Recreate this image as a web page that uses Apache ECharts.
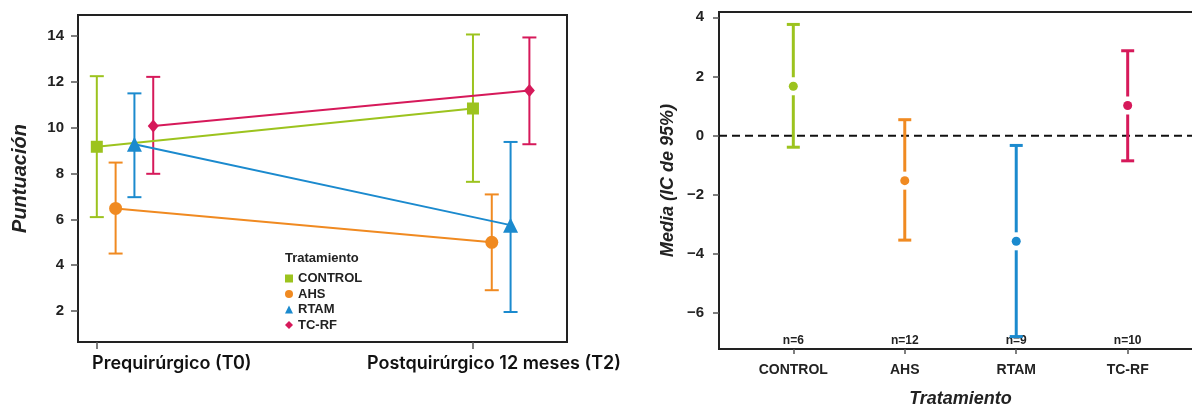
<!DOCTYPE html>
<html><head><meta charset="utf-8">
<script src="https://cdn.jsdelivr.net/npm/echarts@6/dist/echarts.min.js"></script>
<style>html,body{margin:0;padding:0;background:#fff}#c{width:1192px;height:408px}</style>
</head><body><div id="c"></div>
<script>
// ---------- data ----------
const timeLabels = ['Prequirúrgico (T0)', 'Postquirúrgico 12 meses (T2)'];
const groups = ['CONTROL', 'AHS', 'RTAM', 'TC-RF'];
const t0Mean = [9.17, 6.48, 9.28, 10.08];
const t0Low  = [6.10, 4.51, 6.97, 7.99];
const t0High = [12.25, 8.48, 11.50, 12.22];
const t2Mean = [10.84, 5.00, 5.75, 11.63];
const t2Low  = [7.64, 2.91, 1.96, 9.28];
const t2High = [14.07, 7.09, 9.38, 13.94];
const leftYTicks = [2, 4, 6, 8, 10, 12, 14];

const diffMean = [1.67, -1.52, -3.57, 1.02];
const diffLow  = [-0.39, -3.53, -6.79, -0.85];
const diffHigh = [3.76, 0.54, -0.33, 2.87];
const nCounts  = [6, 12, 9, 10];
const rightYTicks = [-6, -4, -2, 0, 2, 4];
const refValue = 0;

// ---------- styles ----------
const colors = ['#9cc31e', '#f08a21', '#1b8ace', '#d6195a'];
const symbols = ['rect', 'circle', 'triangle', 'diamond'];
const symbolSizes = [12, 13, 15, [11, 13]];
const dodge = [0, 0.05, 0.10, 0.15];
const dark = '#222';
const tickFont = {fontFamily: 'Liberation Sans', fontWeight: 'bold', fontSize: 15, color: dark};
const titleFont = {fontFamily: 'Liberation Sans', fontWeight: 'bold', fontStyle: 'italic', color: dark};

const chart = echarts.init(document.getElementById('c'));

function errRender(capW, lw, gap) {
  return function (params, api) {
    const x = api.value(0), lo = api.value(1), hi = api.value(2), m = api.value(3);
    const pHi = api.coord([x, hi]), pLo = api.coord([x, lo]);
    const c = api.visual('color');
    const style = {stroke: c, lineWidth: lw};
    const ch = [];
    if (gap) {
      const pm = api.coord([x, m]);
      ch.push({type: 'line', shape: {x1: pHi[0], y1: pHi[1], x2: pm[0], y2: pm[1] - gap}, style});
      ch.push({type: 'line', shape: {x1: pm[0], y1: pm[1] + gap, x2: pLo[0], y2: pLo[1]}, style});
    } else {
      ch.push({type: 'line', shape: {x1: pHi[0], y1: pHi[1], x2: pLo[0], y2: pLo[1]}, style});
    }
    ch.push({type: 'line', shape: {x1: pHi[0] - capW, y1: pHi[1], x2: pHi[0] + capW, y2: pHi[1]}, style});
    ch.push({type: 'line', shape: {x1: pLo[0] - capW, y1: pLo[1], x2: pLo[0] + capW, y2: pLo[1]}, style});
    return {type: 'group', children: ch};
  };
}

const series = [];
groups.forEach((g, i) => {
  series.push({
    name: 'eb-' + g, type: 'custom', xAxisIndex: 0, yAxisIndex: 0, z: 2,
    itemStyle: {color: colors[i]},
    renderItem: errRender(7, 2, 0),
    data: [[1 + dodge[i], t0Low[i], t0High[i], t0Mean[i]], [2 + dodge[i], t2Low[i], t2High[i], t2Mean[i]]]
  });
  series.push({
    name: g, type: 'line', xAxisIndex: 0, yAxisIndex: 0, z: 3,
    symbol: symbols[i], symbolSize: symbolSizes[i], showSymbol: true,
    color: colors[i], lineStyle: {width: 2, color: colors[i]}, itemStyle: {color: colors[i], opacity: 1},
    data: [[1 + dodge[i], t0Mean[i]], [2 + dodge[i], t2Mean[i]]]
  });
});

// right chart
series.push({
  name: 'ref0', type: 'line', xAxisIndex: 1, yAxisIndex: 1, z: 1, showSymbol: false, symbol: 'none',
  lineStyle: {color: '#111', type: [8, 5], width: 2},
  data: [[0.3333, refValue], [4.6667, refValue]]
});
series.push({
  name: 'diff-eb', type: 'custom', xAxisIndex: 1, yAxisIndex: 1, z: 2,
  renderItem: errRender(6.5, 3, 9),
  data: groups.map((g, i) => ({value: [i + 1, diffLow[i], diffHigh[i], diffMean[i]], itemStyle: {color: colors[i]}}))
});
series.push({
  name: 'diff-mean', type: 'scatter', xAxisIndex: 1, yAxisIndex: 1, z: 3,
  symbol: 'circle', symbolSize: 9,
  data: groups.map((g, i) => ({value: [i + 1, diffMean[i]], itemStyle: {color: colors[i], opacity: 1}}))
});

const labelRich = {fontFamily: 'Inter', fontWeight: 600, fontSize: 18, color: '#111'};

const option = {
  animation: false,
  backgroundColor: '#fff',
  grid: [
    {left: 78, top: 15, width: 489, height: 327, show: true, borderColor: dark, borderWidth: 2, backgroundColor: 'transparent', outerBoundsMode: 'none', containLabel: false},
    {left: 719, top: 12, width: 483, height: 337, show: true, borderColor: dark, borderWidth: 2, backgroundColor: 'transparent', outerBoundsMode: 'none', containLabel: false}
  ],
  xAxis: [
    {
      type: 'value', gridIndex: 0, min: 0.95, max: 2.25,
      splitLine: {show: false},
      axisLine: {show: false, onZero: false},
      axisTick: {show: true, customValues: [1, 2], length: 7, lineStyle: {color: '#555', width: 1.5}},
      axisLabel: {
        customValues: [1, 2], margin: 13,
        formatter: v => (v === 1 ? '{a|' + timeLabels[0] + '}' : '{b|' + timeLabels[1] + '}'),
        rich: {
          a: Object.assign({padding: [0, 0, 0, 150]}, labelRich),
          b: Object.assign({padding: [0, 0, 0, 42]}, labelRich)
        }
      }
    },
    {
      type: 'value', gridIndex: 1, min: 0.3333, max: 4.6667,
      name: 'Tratamiento', nameLocation: 'middle', nameGap: 41,
      nameTextStyle: Object.assign({fontSize: 18}, titleFont),
      splitLine: {show: false},
      axisLine: {show: true, onZero: false, lineStyle: {color: dark, width: 2}},
      axisTick: {show: true, customValues: [1, 2, 3, 4], length: 5, lineStyle: {color: '#555', width: 1.5}},
      axisLabel: Object.assign({customValues: [1, 2, 3, 4], margin: 14, formatter: v => groups[Math.round(v) - 1]}, tickFont, {fontSize: 14})
    },
    {
      type: 'value', gridIndex: 1, min: 0.3333, max: 4.6667, position: 'bottom',
      splitLine: {show: false}, axisLine: {show: false, onZero: false}, axisTick: {show: false},
      axisLabel: {inside: true, margin: 2, customValues: [1, 2, 3, 4], formatter: v => 'n=' + nCounts[Math.round(v) - 1],
        fontFamily: 'Liberation Sans', fontWeight: 'bold', fontSize: 12, color: dark}
    }
  ],
  yAxis: [
    {
      type: 'value', gridIndex: 0, min: 0.65, max: 14.92,
      name: 'Puntuación', nameLocation: 'middle', nameGap: 48,
      nameTextStyle: Object.assign({fontSize: 20}, titleFont),
      splitLine: {show: false},
      axisLine: {show: false, onZero: false},
      axisTick: {show: true, customValues: leftYTicks, length: 7, lineStyle: {color: '#555', width: 1.5}},
      axisLabel: Object.assign({customValues: leftYTicks, margin: 14}, tickFont)
    },
    {
      type: 'value', gridIndex: 1, min: -7.21, max: 4.18,
      name: 'Media (IC de 95%)', nameLocation: 'middle', nameGap: 42,
      nameTextStyle: Object.assign({fontSize: 18}, titleFont),
      splitLine: {show: false},
      axisLine: {show: true, onZero: false, lineStyle: {color: dark, width: 2}},
      axisTick: {show: true, customValues: rightYTicks, length: 6, lineStyle: {color: '#555', width: 1.5}},
      axisLabel: Object.assign({customValues: rightYTicks, margin: 15, formatter: v => String(v).replace('-', '\u2212')}, tickFont)
    }
  ],
  legend: {
    orient: 'vertical', left: 280, top: 267, itemWidth: 8, itemHeight: 8, itemGap: 2.5,
    textStyle: {fontFamily: 'Liberation Sans', fontWeight: 'bold', fontSize: 13, lineHeight: 13, color: dark},
    data: groups.map((g, i) => ({name: g, icon: symbols[i]})),
    selectedMode: false
  },
  graphic: [
    {type: 'text', left: 285, top: 252, style: {text: 'Tratamiento', font: 'bold 13px "Liberation Sans"', fill: dark}}
  ],
  series: series
};
chart.setOption(option);
</script></body></html>
